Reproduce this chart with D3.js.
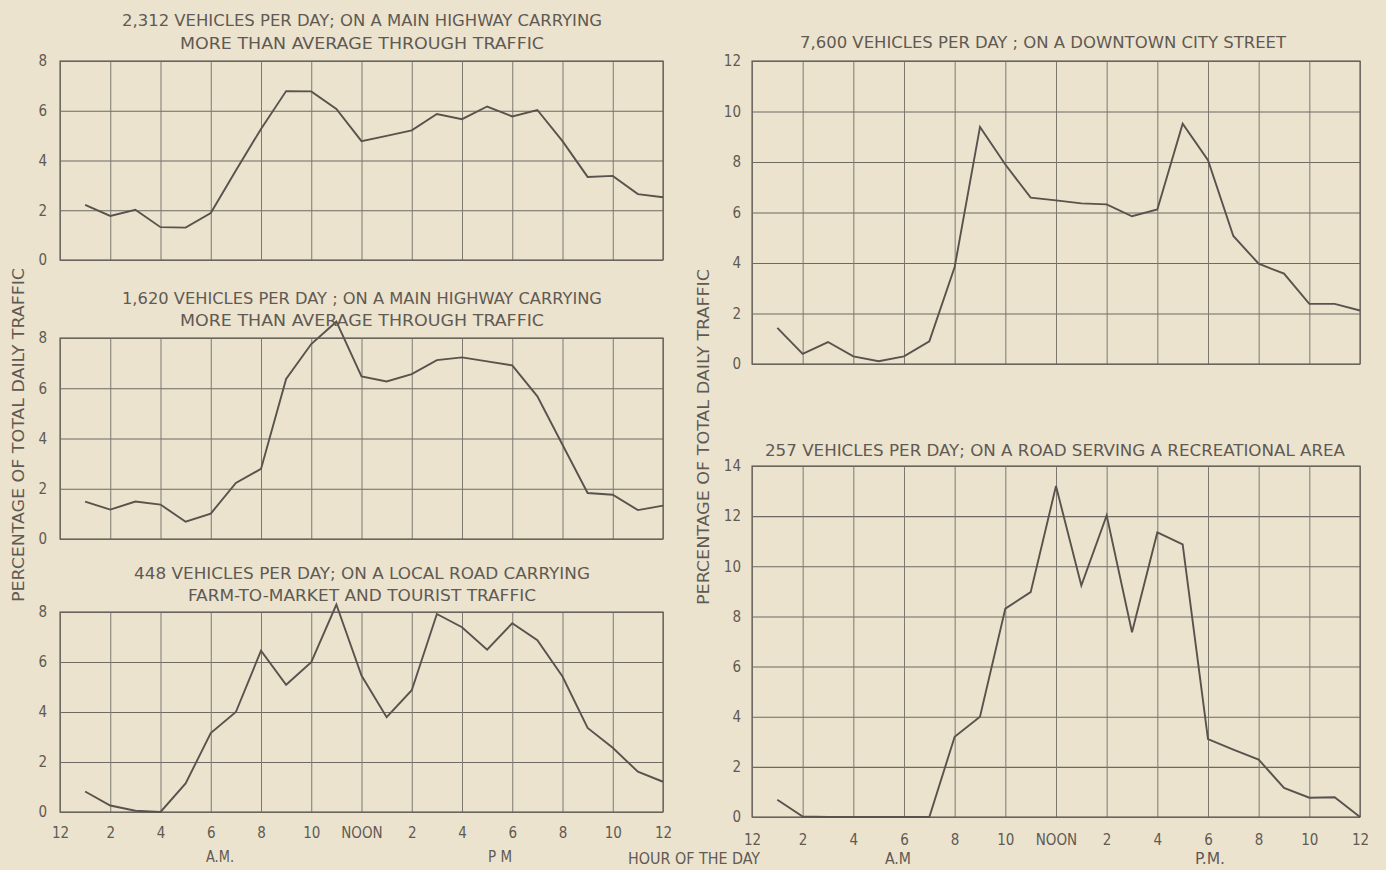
<!DOCTYPE html>
<html>
<head>
<meta charset="utf-8">
<script src="https://cdn.jsdelivr.net/npm/d3@7"></script>
<style>
  html, body { margin: 0; padding: 0; background: #ece3cf; }
  svg { display: block; }
  text { font-family: "Liberation Sans Narrow", "DejaVu Sans Condensed", sans-serif; fill: #5f5a53; }
</style>
</head>
<body>
<svg id="chart" width="1386" height="870"></svg>
<script>
// hourly share of daily traffic, hour ending 1 AM ... 12 midnight
const hours = d3.range(1, 25);

const highway2312 = [2.22, 1.77, 2.02, 1.32, 1.30, 1.89, 3.6, 5.27, 6.79, 6.78, 6.07, 4.78,
  4.99, 5.21, 5.87, 5.66, 6.17, 5.77, 6.03, 4.78, 3.34, 3.38, 2.65, 2.52];
const highway1620 = [1.49, 1.17, 1.49, 1.37, 0.69, 1.01, 2.23, 2.79, 6.37, 7.76, 8.65, 6.47,
  6.27, 6.56, 7.12, 7.23, 7.07, 6.91, 5.68, 3.75, 1.83, 1.76, 1.15, 1.33];
const localRoad448 = [0.82, 0.26, 0.05, 0.0, 1.14, 3.16, 4.0, 6.45, 5.09, 5.99, 8.3, 5.46,
  3.79, 4.87, 7.92, 7.39, 6.49, 7.55, 6.87, 5.42, 3.36, 2.57, 1.61, 1.21];
const downtown7600 = [1.43, 0.40, 0.87, 0.30, 0.11, 0.30, 0.90, 3.84, 9.39, 7.9, 6.59, 6.48,
  6.36, 6.32, 5.85, 6.12, 9.52, 8.07, 5.07, 3.97, 3.58, 2.38, 2.38, 2.12];
const recreation257 = [0.69, 0.02, 0.0, 0.0, 0.0, 0.0, 0.0, 3.2, 4.0, 8.31, 8.97, 13.2,
  9.23, 12.03, 7.37, 11.35, 10.87, 3.11, 2.69, 2.29, 1.16, 0.77, 0.79, 0.0];

const xTickHours = d3.range(0, 25, 2);
const xTickLabels = ['12', '2', '4', '6', '8', '10', 'NOON', '2', '4', '6', '8', '10', '12'];

const titles = {
  highway2312: ['2,312 VEHICLES PER DAY;  ON  A  MAIN HIGHWAY CARRYING', 'MORE THAN AVERAGE THROUGH TRAFFIC'],
  highway1620: ['1,620 VEHICLES PER DAY ;  ON  A  MAIN HIGHWAY CARRYING', 'MORE THAN AVERAGE THROUGH TRAFFIC'],
  localRoad448: ['448 VEHICLES PER DAY; ON A LOCAL ROAD CARRYING', 'FARM-TO-MARKET AND  TOURIST TRAFFIC'],
  downtown7600: ['7,600 VEHICLES PER DAY ;  ON  A  DOWNTOWN  CITY STREET'],
  recreation257: ['257 VEHICLES  PER DAY;  ON A ROAD SERVING A RECREATIONAL AREA']
};

const svg = d3.select('#chart');
const ink = '#5f5a53';

// layout of the five small charts (pixel frames, title baselines and widths)
const panels = [
  { key: 'highway2312', data: highway2312, yMax: 8, x0: 60, x1: 663, yTop: 61, yBot: 260,
    titleX: 362, titleY: [26, 49], titleW: [480, 364], labels: false },
  { key: 'highway1620', data: highway1620, yMax: 8, x0: 60, x1: 663, yTop: 338, yBot: 539,
    titleX: 362, titleY: [304, 326], titleW: [480, 364], labels: false },
  { key: 'localRoad448', data: localRoad448, yMax: 8, x0: 60, x1: 663, yTop: 612, yBot: 812,
    titleX: 362, titleY: [579, 601], titleW: [456, 348], labels: true, labelY: 838 },
  { key: 'downtown7600', data: downtown7600, yMax: 12, x0: 752, x1: 1360, yTop: 61, yBot: 364,
    titleX: 1043, titleY: [48], titleW: [486], labels: false },
  { key: 'recreation257', data: recreation257, yMax: 14, x0: 752, x1: 1360, yTop: 466, yBot: 817,
    titleX: 1055, titleY: [456], titleW: [580], labels: true, labelY: 845 }
];

panels.forEach(function(p) {
  const x = d3.scaleLinear().domain([0, 24]).range([p.x0, p.x1]);
  const y = d3.scaleLinear().domain([0, p.yMax]).range([p.yBot, p.yTop]);
  const g = svg.append('g');

  // horizontal grid + value labels
  const yAxis = d3.axisLeft(y)
    .tickValues(d3.range(0, p.yMax + 1, 2))
    .tickSize(-(p.x1 - p.x0))
    .tickPadding(p.x0 > 700 ? 11 : 13)
    .tickFormat(d3.format('d'));
  const gy = g.append('g').attr('transform', 'translate(' + p.x0 + ',0)').call(yAxis);
  gy.select('.domain').remove();
  gy.selectAll('line').attr('stroke', '#6e6962').attr('stroke-width', 1.1);
  gy.selectAll('text').attr('font-size', 15).style('fill', ink);

  // vertical grid every two hours
  const xAxis = d3.axisBottom(x)
    .tickValues(xTickHours)
    .tickSize(-(p.yBot - p.yTop))
    .tickPadding(p.labels ? p.labelY - p.yBot - 11 : 0)
    .tickFormat(function(d, i) { return p.labels ? xTickLabels[i] : ''; });
  const gx = g.append('g').attr('transform', 'translate(0,' + p.yBot + ')').call(xAxis);
  gx.select('.domain').remove();
  gx.selectAll('line').attr('stroke', '#7d7870').attr('stroke-width', 1);
  gx.selectAll('text').attr('font-size', 15).style('fill', ink);

  // frame
  g.append('rect')
    .attr('x', p.x0).attr('y', p.yTop)
    .attr('width', p.x1 - p.x0).attr('height', p.yBot - p.yTop)
    .attr('fill', 'none').attr('stroke', '#66615a').attr('stroke-width', 1.2);

  // traffic curve
  const line = d3.line()
    .x(function(d, i) { return x(hours[i]); })
    .y(function(d) { return y(d); });
  g.append('path')
    .datum(p.data)
    .attr('d', line)
    .attr('fill', 'none')
    .attr('stroke', '#58534d')
    .attr('stroke-width', 1.9)
    .attr('stroke-linejoin', 'miter');

  // title
  titles[p.key].forEach(function(t, i) {
    svg.append('text')
      .attr('x', p.titleX).attr('y', p.titleY[i])
      .attr('text-anchor', 'middle')
      .attr('font-size', 16.5)
      .attr('textLength', p.titleW[i])
      .attr('lengthAdjust', 'spacingAndGlyphs')
      .text(t);
  });
});

// shared axis captions
function caption(txt, x, y, w, size, rotate) {
  const t = svg.append('text')
    .attr('text-anchor', 'middle')
    .attr('font-size', size)
    .attr('textLength', w)
    .attr('lengthAdjust', 'spacingAndGlyphs')
    .text(txt);
  if (rotate) {
    t.attr('transform', 'translate(' + x + ',' + y + ') rotate(-90)');
  } else {
    t.attr('x', x).attr('y', y);
  }
}

caption('PERCENTAGE  OF  TOTAL  DAILY  TRAFFIC', 24, 435, 334, 16, true);
caption('PERCENTAGE  OF  TOTAL  DAILY  TRAFFIC', 709, 437, 336, 16, true);
caption('A.M.', 220, 862, 28, 15, false);
caption('P M', 500, 862, 24, 15, false);
caption('HOUR OF THE DAY', 694, 864, 132, 15.5, false);
caption('A.M', 898, 864, 26, 15, false);
caption('P.M.', 1210, 864, 30, 15, false);
</script>
</body>
</html>
